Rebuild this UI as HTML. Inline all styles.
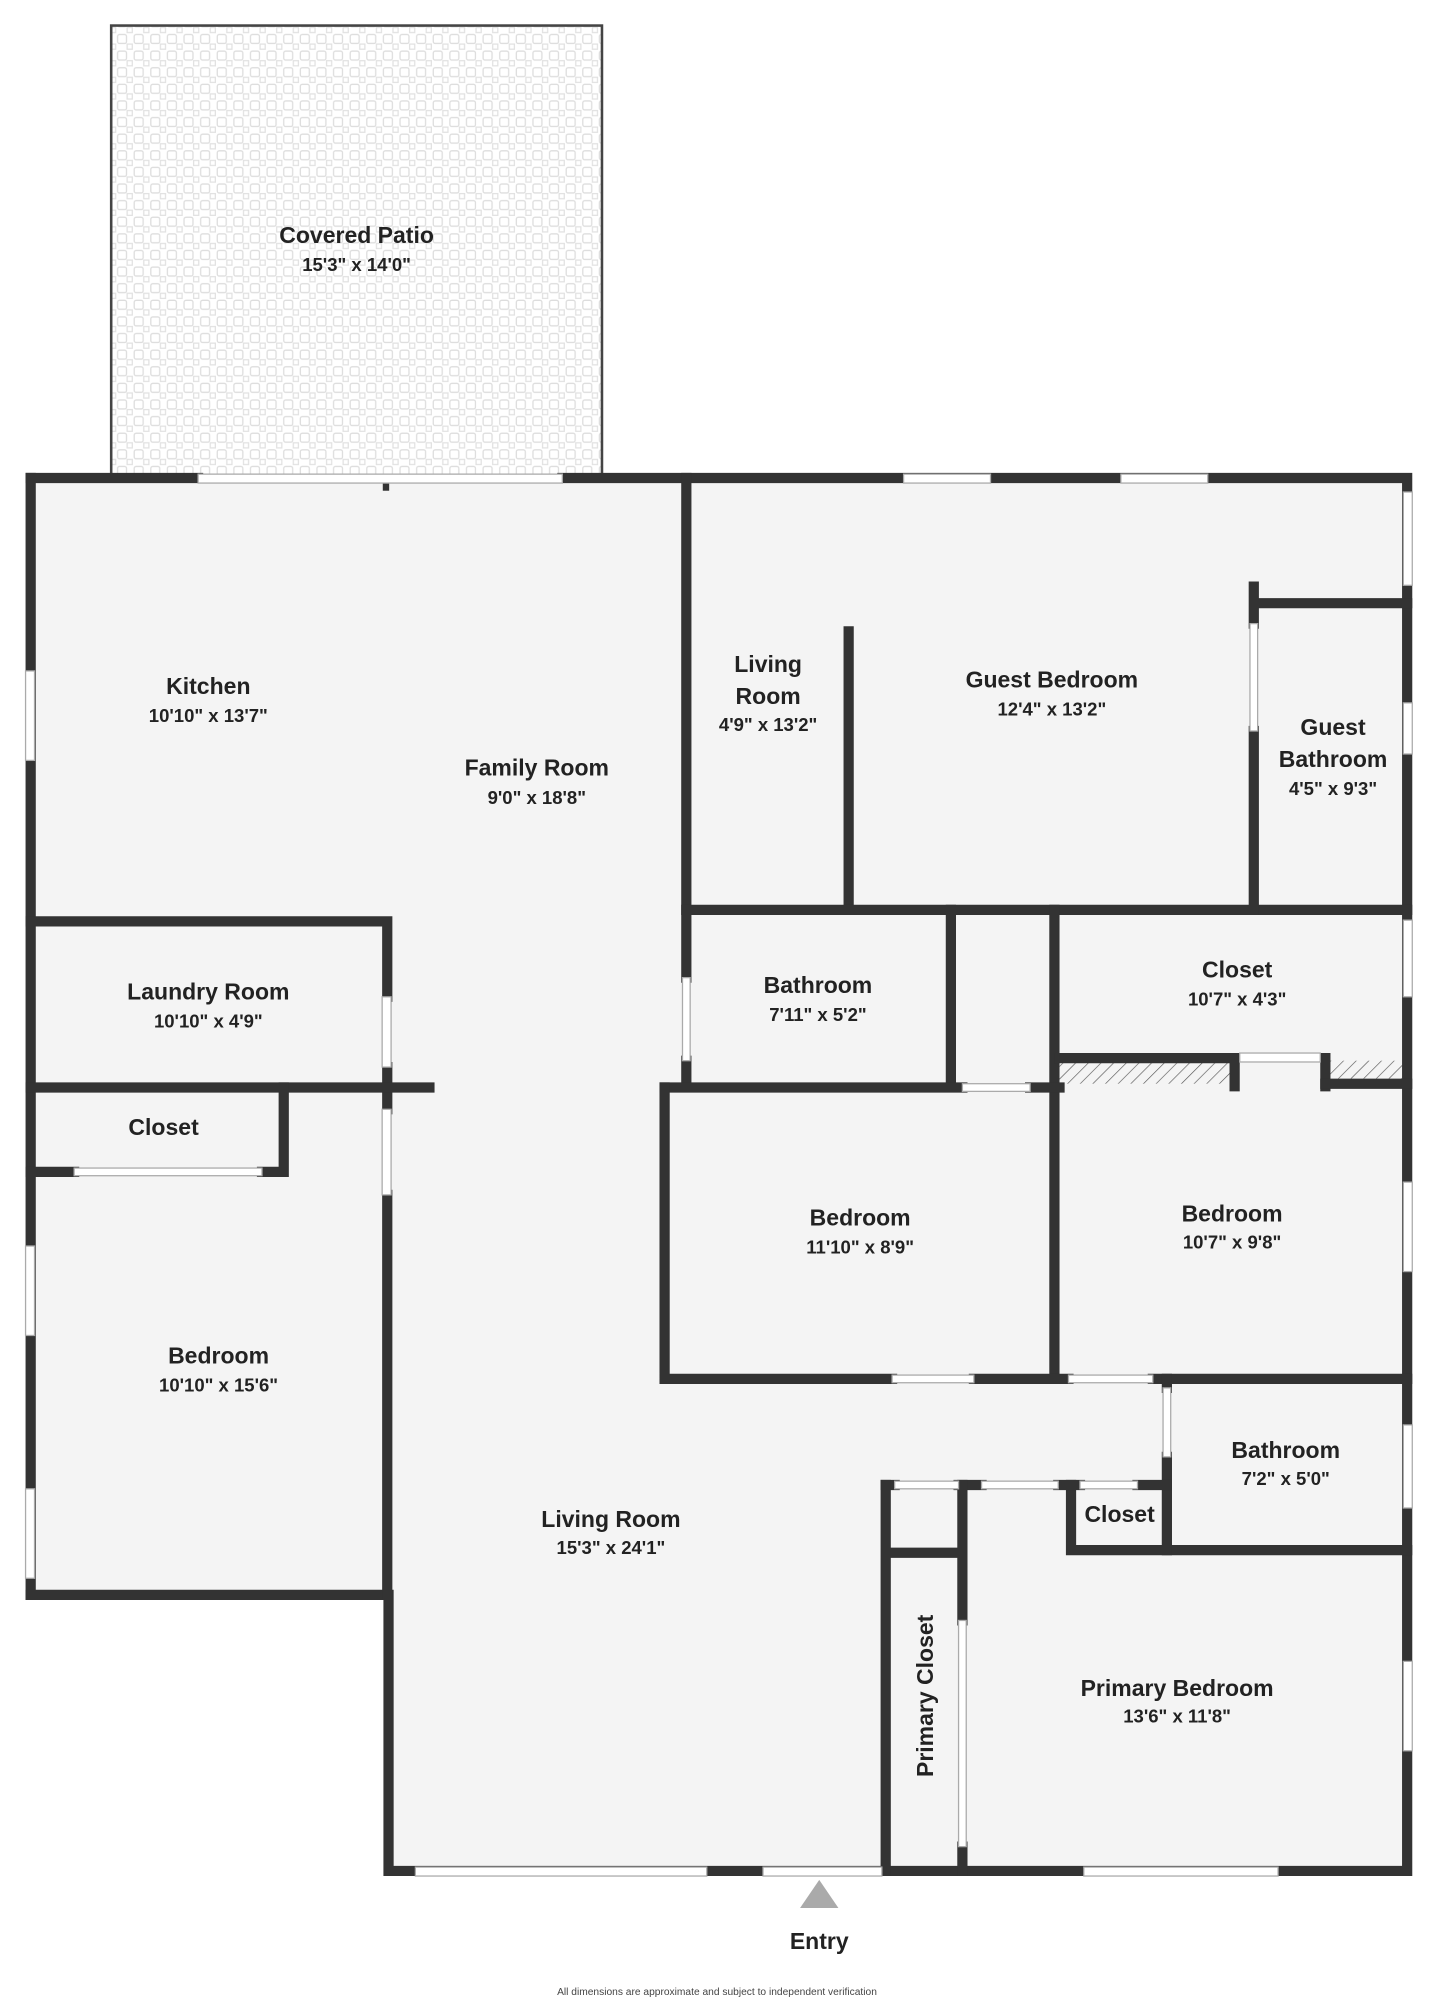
<!DOCTYPE html>
<html><head><meta charset="utf-8"><style>
html,body{margin:0;padding:0;background:#fff;}
svg{display:block;}
text{font-family:"Liberation Sans",sans-serif;font-weight:bold;fill:#222;text-anchor:middle;}
.n{font-size:18px;}
.d{font-size:14.5px;}
</style></head><body>
<svg width="1434" height="2000" viewBox="0 0 1122 1565" preserveAspectRatio="none">
<defs>
<pattern id="tile" width="13" height="13" patternUnits="userSpaceOnUse">
<rect width="13" height="13" fill="#fff"/>
<rect x="1" y="1" width="7" height="7" rx="1.5" fill="none" stroke="#ddd" stroke-width="1"/>
<rect x="8.5" y="8.5" width="4" height="4" fill="none" stroke="#e2e2e2" stroke-width="1"/>
</pattern>
<pattern id="hatch" width="7" height="7" patternUnits="userSpaceOnUse" patternTransform="rotate(45)">
<rect width="7" height="7" fill="#f4f4f4"/><line x1="0" y1="0" x2="0" y2="7" stroke="#555" stroke-width="1"/>
</pattern>
</defs>
<rect x="87" y="20" width="384" height="352" fill="url(#tile)" stroke="#444" stroke-width="2"/>
<polygon points="20,374 1105,374 1105,1468 300,1468 300,1250 20,1250" fill="#f4f4f4"/>
<rect x="829" y="830" width="134" height="18" fill="url(#hatch)"/>
<rect x="1039" y="830" width="58" height="14" fill="url(#hatch)"/>
<g stroke="#333" stroke-width="8" stroke-linecap="square" fill="none">
<path d="M24,374 H155 M440,374 H1101 V1464 H304 V1248 H24"/>
<line x1="24" y1="374" x2="24" y2="1248"/>
<path d="M24,721 H303 V780 M303,835 V868 M303,935 V1248"/>
<path d="M24,851 H336"/>
<path d="M222,851 V917 H205 M24,917 H58"/>
<path d="M537,374 V765 M537,830 V848"/>
<path d="M664,494 V712"/>
<path d="M537,712 H1101"/>
<path d="M981,459 V488 M981,572 V712 M981,472 H1101"/>
<path d="M744,712 V850 M825,712 V1079"/>
<path d="M520,851 H753 M806,851 H829"/>
<path d="M829,828 H966 V850 M1037,850 V828 H1037"/>
<path d="M1037,848 H1101"/>
<path d="M520,851 V1079 H698 M762,1079 H836 M902,1079 H1101"/>
<path d="M913,1079 V1086 M913,1140 V1213 H1101"/>
<path d="M838,1162 V1213 H913"/>
<path d="M693,1162 H700 M750,1162 H768 M828,1162 H845 M890,1162 H913"/>
<path d="M693,1162 V1464 M753,1162 V1268 M753,1445 V1464 M693,1215 H753"/>
</g>
<line x1="302" y1="378" x2="302" y2="384" stroke="#333" stroke-width="5"/>
<g fill="#fff" stroke="#aaa" stroke-width="1">
<rect x="155" y="371" width="285" height="7"/>
<rect x="707" y="371" width="68" height="7"/><rect x="877" y="371" width="68" height="7"/>
<rect x="20" y="525" width="7" height="70"/><rect x="20" y="975" width="7" height="70"/><rect x="20" y="1165" width="7" height="70"/>
<rect x="1098" y="385" width="7" height="73"/><rect x="1098" y="550" width="7" height="40"/><rect x="1098" y="720" width="7" height="60"/>
<rect x="1098" y="925" width="7" height="70"/><rect x="1098" y="1115" width="7" height="65"/><rect x="1098" y="1300" width="7" height="70"/>
<rect x="325" y="1461" width="228" height="7"/><rect x="597" y="1461" width="93" height="7"/><rect x="848" y="1461" width="152" height="7"/>
<rect x="299" y="780" width="7" height="55"/><rect x="299" y="868" width="7" height="67"/>
<rect x="58" y="914" width="147" height="6"/>
<rect x="534" y="765" width="6" height="65"/>
<rect x="978" y="488" width="6" height="84"/>
<rect x="753" y="848" width="53" height="6"/>
<rect x="970" y="824" width="63" height="7"/>
<rect x="698" y="1076" width="64" height="6"/><rect x="836" y="1076" width="66" height="6"/>
<rect x="910" y="1086" width="6" height="54"/>
<rect x="700" y="1159" width="50" height="6"/><rect x="768" y="1159" width="60" height="6"/><rect x="845" y="1159" width="45" height="6"/>
<rect x="750" y="1268" width="6" height="177"/>
</g>
<text class="n" x="279" y="190">Covered Patio</text><text class="d" x="279" y="212">15'3" x 14'0"</text>
<text class="n" x="163" y="543">Kitchen</text><text class="d" x="163" y="565">10'10" x 13'7"</text>
<text class="n" x="420" y="607">Family Room</text><text class="d" x="420" y="629">9'0" x 18'8"</text>
<text class="n" x="601" y="526">Living</text><text class="n" x="601" y="551">Room</text><text class="d" x="601" y="572">4'9" x 13'2"</text>
<text class="n" x="823" y="538">Guest Bedroom</text><text class="d" x="823" y="560">12'4" x 13'2"</text>
<text class="n" x="1043" y="575">Guest</text><text class="n" x="1043" y="600">Bathroom</text><text class="d" x="1043" y="622">4'5" x 9'3"</text>
<text class="n" x="163" y="782">Laundry Room</text><text class="d" x="163" y="804">10'10" x 4'9"</text>
<text class="n" x="640" y="777">Bathroom</text><text class="d" x="640" y="799">7'11" x 5'2"</text>
<text class="n" x="968" y="765">Closet</text><text class="d" x="968" y="787">10'7" x 4'3"</text>
<text class="n" x="128" y="888">Closet</text>
<text class="n" x="673" y="959">Bedroom</text><text class="d" x="673" y="981">11'10" x 8'9"</text>
<text class="n" x="964" y="956">Bedroom</text><text class="d" x="964" y="977">10'7" x 9'8"</text>
<text class="n" x="171" y="1067">Bedroom</text><text class="d" x="171" y="1089">10'10" x 15'6"</text>
<text class="n" x="1006" y="1141">Bathroom</text><text class="d" x="1006" y="1162">7'2" x 5'0"</text>
<text class="n" x="876" y="1191">Closet</text>
<text class="n" x="478" y="1195">Living Room</text><text class="d" x="478" y="1216">15'3" x 24'1"</text>
<text class="n" x="921" y="1327">Primary Bedroom</text><text class="d" x="921" y="1348">13'6" x 11'8"</text>
<text class="n" transform="translate(730,1327) rotate(-90)">Primary Closet</text>
<polygon points="641,1471 626,1493 656,1493" fill="#aaa"/>
<text class="n" x="641" y="1525">Entry</text>
<text x="561" y="1561" style="font-size:8px;font-weight:normal;fill:#444">All dimensions are approximate and subject to independent verification</text>
</svg>
</body></html>
